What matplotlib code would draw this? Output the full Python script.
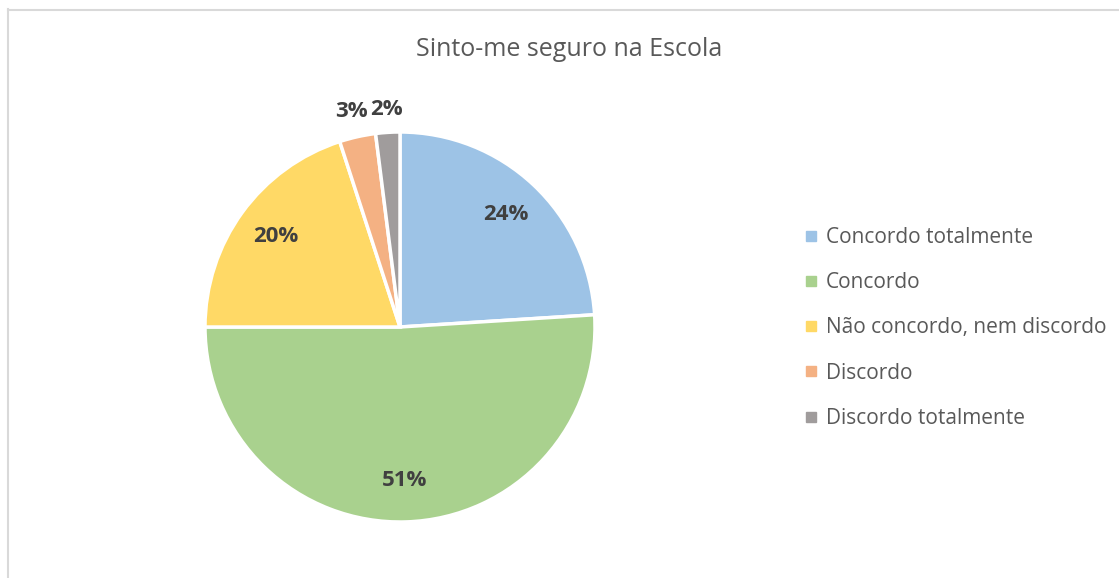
import matplotlib
matplotlib.use("Agg")
import matplotlib.pyplot as plt
from matplotlib.lines import Line2D
import numpy as np

plt.rcParams['font.family'] = ['Open Sans', 'DejaVu Sans']

title = "Sinto-me seguro na Escola"
categories = ["Concordo totalmente", "Concordo", "Não concordo, nem discordo",
              "Discordo", "Discordo totalmente"]
values = [24, 51, 20, 3, 2]
labels = ["24%", "51%", "20%", "3%", "2%"]
colors = ["#9DC3E6", "#A9D18E", "#FFD966", "#F4B183", "#A09C9C"]
label_dist = [0.79, 0.79, 0.79, 1.13, 1.12]

W, H = 1119, 578
fig = plt.figure(figsize=(W / 100, H / 100), dpi=100)
ax = fig.add_axes([0, 0, 1, 1])

cx, cy, R = 400, H - 327, 195
wedges, _ = ax.pie(values, colors=colors, startangle=90, counterclock=False,
                   center=(cx, cy), radius=R, frame=True,
                   wedgeprops=dict(edgecolor='white', linewidth=2.5))
ax.set_xlim(0, W)
ax.set_ylim(0, H)
ax.set_aspect('equal')
ax.axis('off')

for w, lab, d in zip(wedges, labels, label_dist):
    ang = np.deg2rad((w.theta1 + w.theta2) / 2)
    ax.text(cx + d * R * np.cos(ang), cy + d * R * np.sin(ang), lab,
            ha='center', va='center', fontsize=16, fontweight='bold',
            color='#404040')

fig.text(569 / W, 1 - 49 / H, title, ha='center', va='center',
         fontsize=18, color='#595959')

handles = [Line2D([], [], marker='s', linestyle='none', markersize=7,
                  markerfacecolor=c, markeredgecolor=c) for c in colors]
leg = fig.legend(handles, categories, loc='center left',
                 bbox_to_anchor=(796 / W, 1 - 328 / H), frameon=False,
                 fontsize=15, labelcolor='#595959', handletextpad=0.45,
                 labelspacing=1.16, handlelength=0.6, borderaxespad=0)

# chart border (left and top visible)
fig.add_artist(Line2D([7.5 / W, 7.5 / W], [0, 1 - 9 / H], transform=fig.transFigure,
                      color='#D9D9D9', linewidth=1.5))
fig.add_artist(Line2D([7.5 / W, 1118 / W], [1 - 9.5 / H, 1 - 9.5 / H],
                      transform=fig.transFigure, color='#D9D9D9', linewidth=1.5))

fig.savefig("out.png", dpi=100, facecolor='white')
